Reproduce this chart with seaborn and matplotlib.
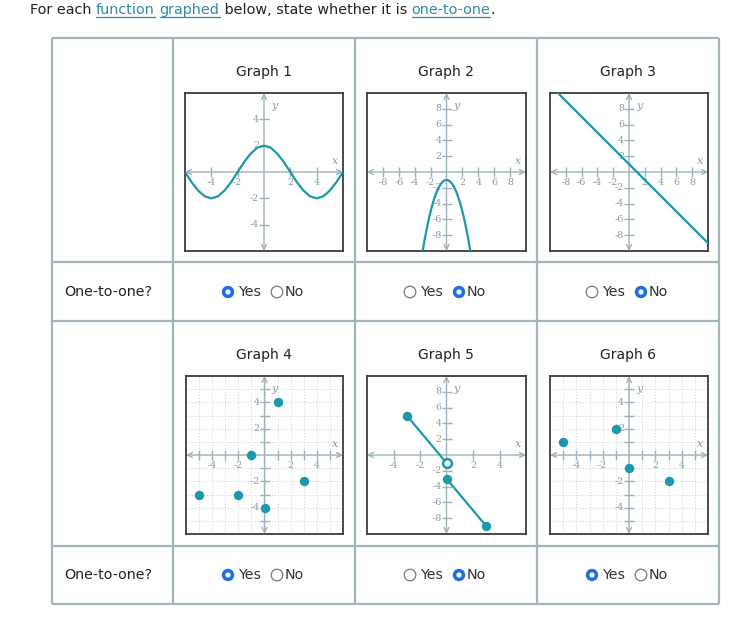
import matplotlib
matplotlib.use('Agg')
import matplotlib.pyplot as plt
import seaborn as sns
from matplotlib.patches import Circle

# ---- data ----
g1_x = [-6, -5.5, -5, -4.5, -4, -3.5, -3, -2.5, -2, -1.5, -1, -0.5, 0,
        0.5, 1, 1.5, 2, 2.5, 3, 3.5, 4, 4.5, 5, 5.5, 6]
g1_y = [0, -0.77, -1.41, -1.85, -2, -1.85, -1.41, -0.77, 0, 0.77, 1.41, 1.85, 2,
        1.85, 1.41, 0.77, 0, -0.77, -1.41, -1.85, -2, -1.85, -1.41, -0.77, 0]

g2_x = [-3, -2.75, -2.5, -2.25, -2, -1.75, -1.5, -1.25, -1, -0.75, -0.5, -0.25, 0,
        0.25, 0.5, 0.75, 1, 1.25, 1.5, 1.75, 2, 2.25, 2.5, 2.75, 3]
g2_y = [-10, -8.56, -7.25, -6.06, -5, -4.06, -3.25, -2.56, -2, -1.56, -1.25, -1.06, -1,
        -1.06, -1.25, -1.56, -2, -2.56, -3.25, -4.06, -5, -6.06, -7.25, -8.56, -10]

g3_x = [-9, 10]
g3_y = [10, -9]

g4_x = [-5, -2, -1, 0, 1, 3]
g4_y = [-3, -3, 0, -4, 4, -2]

g5_seg1_x = [-3, 0]
g5_seg1_y = [5, -1]
g5_seg2_x = [0, 3]
g5_seg2_y = [-3, -9]
g5_closed_x = [-3, 0, 3]
g5_closed_y = [5, -3, -9]
g5_open_x = [0]
g5_open_y = [-1]

g6_x = [-5, -1, 0, 3]
g6_y = [1, 2, -1, -2]

graph_titles = ['Graph 1', 'Graph 2', 'Graph 3', 'Graph 4', 'Graph 5', 'Graph 6']
answers = ['Yes', 'No', 'No', 'Yes', 'No', 'Yes']

# ---- style ----
sns.set_theme(style='white')
plt.rcParams['font.family'] = ['DejaVu Sans']

W, H = 750, 630
TEAL = '#1b98ab'
AXC = '#9fb2b9'
LINK = '#2f8ca3'
GRID = '#cfd8dc'
BORDER = '#a3b4bb'
BLUE = '#1f6fe0'

fig = plt.figure(figsize=(7.5, 6.3), dpi=100)
bg = fig.add_axes([0, 0, 1, 1])
bg.set_xlim(0, W)
bg.set_ylim(H, 0)
bg.axis('off')


def px_axes(x0, y0, x1, y1):
    return fig.add_axes([x0 / W, 1 - y1 / H, (x1 - x0) / W, (y1 - y0) / H])


# header line with links
renderer = fig.canvas.get_renderer()
pieces = [('For each ', False), ('function', True), (' ', False), ('graphed', True),
          (' below, state whether it is ', False), ('one-to-one', True), ('.', False)]
cx = 30
for txt, link in pieces:
    t = bg.text(cx, 14, txt, fontsize=10.4, color=LINK if link else '#222222',
                va='baseline', ha='left')
    w = t.get_window_extent(renderer).width
    if link:
        bg.plot([cx, cx + w], [16.5, 16.5], color=LINK, lw=0.9)
    cx += w

# table grid
rows = [38, 262, 321, 546, 604]
cols = [52, 173, 355, 537, 719]
for y in rows:
    bg.plot([cols[0], cols[-1]], [y, y], color=BORDER, lw=1.6, solid_capstyle='butt')
for x in cols:
    bg.plot([x, x], [rows[0], rows[-1]], color=BORDER, lw=1.6, solid_capstyle='butt')

centers = [264, 446, 628]
title_y = [72, 355]
answer_y = [292, 575]

for i, title in enumerate(graph_titles):
    r, c = divmod(i, 3)
    bg.text(centers[c], title_y[r], title, fontsize=10, color='#222222',
            ha='center', va='center')

for r in range(2):
    bg.text(64, answer_y[r], 'One-to-one?', fontsize=10.3, color='#222222',
            ha='left', va='center')


def radio(x, y, on):
    if on:
        bg.add_patch(Circle((x, y), 6.2, facecolor=BLUE, edgecolor='none'))
        bg.add_patch(Circle((x, y), 2.6, facecolor='white', edgecolor='none'))
    else:
        bg.add_patch(Circle((x, y), 5.8, facecolor='white', edgecolor='#7a7a7a', lw=0.9))


for i, ans in enumerate(answers):
    r, c = divmod(i, 3)
    x, y = centers[c], answer_y[r]
    radio(x - 36, y, ans == 'Yes')
    bg.text(x - 26, y, 'Yes', fontsize=10.3, color='#333333', ha='left', va='center')
    radio(x + 13, y, ans == 'No')
    bg.text(x + 21, y, 'No', fontsize=10.3, color='#333333', ha='left', va='center')


def frame(ax, lim, tick_step, labels, grid=False, xlim=None, ylim=None):
    xlo, xhi = xlim if xlim else lim
    ylo, yhi = ylim if ylim else lim
    ax.set_xlim(xlo, xhi)
    ax.set_ylim(ylo, yhi)
    ax.set_xticks([])
    ax.set_yticks([])
    for s in ax.spines.values():
        s.set_color('#3c3c3c')
        s.set_linewidth(1.3)
    if grid:
        for v in range(int(xlo) + 1, int(xhi)):
            ax.axvline(v, color=GRID, lw=0.8, ls=':', zorder=0)
        for v in range(int(ylo) + 1, int(yhi)):
            ax.axhline(v, color=GRID, lw=0.8, ls=':', zorder=0)
    arrow = dict(arrowstyle='<->', color=AXC, lw=1.0, mutation_scale=9,
                 shrinkA=0, shrinkB=0)
    ax.annotate('', xy=(xhi, 0), xytext=(xlo, 0), arrowprops=arrow, zorder=1)
    ax.annotate('', xy=(0, yhi), xytext=(0, ylo), arrowprops=arrow, zorder=1)
    xs, ys = tick_step
    xt = [v for v in range(int(xlo) + xs, int(xhi), xs) if v != 0]
    yt = [v for v in range(int(ylo) + ys, int(yhi), ys) if v != 0]
    xs_l, ys_l = labels
    ax.plot(xt, [0] * len(xt), ls='none', marker='|', ms=7, mew=1.0, color=AXC, zorder=1)
    ax.plot([0] * len(yt), yt, ls='none', marker='_', ms=7, mew=1.0, color=AXC, zorder=1)
    lab = dict(fontsize=6.8, color='#8c9ca3', family='DejaVu Serif',
               textcoords='offset points', zorder=1)
    for v in xs_l:
        ax.annotate(f'-{abs(v)}' if v < 0 else str(v), (v, 0), xytext=(0, -4),
                    ha='center', va='top', **lab)
    for v in ys_l:
        ax.annotate(f'-{abs(v)}' if v < 0 else str(v), (0, v), xytext=(-3.5, 0),
                    ha='right', va='center', **lab)
    ax.annotate('x', (xhi, 0), xytext=(-6, 4), ha='center', va='bottom',
                fontsize=8, style='italic', color='#8c9ca3', family='DejaVu Serif',
                textcoords='offset points')
    ax.annotate('y', (0, yhi), xytext=(5, -6), ha='left', va='top',
                fontsize=8, style='italic', color='#8c9ca3', family='DejaVu Serif',
                textcoords='offset points')


line_kw = dict(color=TEAL, linewidth=1.6, sort=False, estimator=None, zorder=3)
dot_kw = dict(color=TEAL, s=46, linewidth=0, zorder=4, legend=False)

# graph 1
ax1 = px_axes(185, 93, 343, 251)
frame(ax1, (-6, 6), (2, 2), ([-4, -2, 2, 4], [4, 2, -2, -4]))
sns.lineplot(x=g1_x, y=g1_y, ax=ax1, **line_kw)

# graph 2
ax2 = px_axes(367, 93, 526, 251)
ev = [-8, -6, -4, -2, 2, 4, 6, 8]
frame(ax2, (-10, 10), (2, 2), (ev, ev))
sns.lineplot(x=g2_x, y=g2_y, ax=ax2, **line_kw)

# graph 3
ax3 = px_axes(550, 93, 708, 251)
frame(ax3, (-10, 10), (2, 2), (ev, ev))
sns.lineplot(x=g3_x, y=g3_y, ax=ax3, **line_kw)

# graph 4
ax4 = px_axes(186, 376, 343, 534)
frame(ax4, (-6, 6), (1, 1), ([-4, -2, 2, 4], [4, 2, -2, -4]), grid=True)
sns.scatterplot(x=g4_x, y=g4_y, ax=ax4, **dot_kw)

# graph 5
ax5 = px_axes(367, 376, 526, 534)
frame(ax5, None, (2, 2), ([-4, -2, 2, 4], ev), xlim=(-6, 6), ylim=(-10, 10))
sns.lineplot(x=g5_seg1_x, y=g5_seg1_y, ax=ax5, **line_kw)
sns.lineplot(x=g5_seg2_x, y=g5_seg2_y, ax=ax5, **line_kw)
sns.scatterplot(x=g5_closed_x, y=g5_closed_y, ax=ax5, **dot_kw)
sns.scatterplot(x=g5_open_x, y=g5_open_y, ax=ax5, color='white', edgecolor=TEAL,
                s=40, linewidth=1.8, zorder=5, legend=False)

# graph 6
ax6 = px_axes(550, 376, 708, 534)
frame(ax6, (-6, 6), (1, 1), ([-4, -2, 2, 4], [4, 2, -2, -4]), grid=True)
sns.scatterplot(x=g6_x, y=g6_y, ax=ax6, **dot_kw)

fig.savefig('out.png', dpi=100)
plt.close(fig)
